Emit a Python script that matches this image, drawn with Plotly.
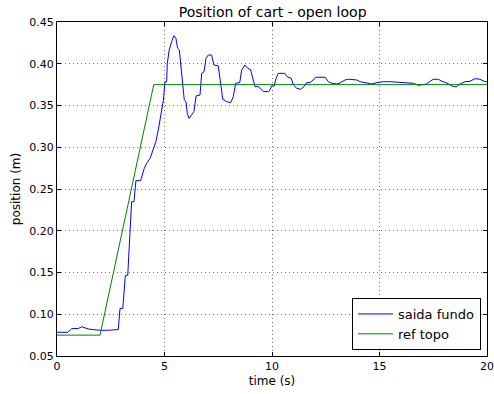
import plotly.graph_objects as go

# Blue: measured output ("saida fundo")
t_out = [0.0, 0.5, 0.68, 1.0, 1.15, 1.47, 1.7, 2.0, 2.39, 2.85, 2.93, 3.06, 3.18, 3.29,
         3.47, 3.58, 3.67, 3.89, 4.06, 4.17, 4.33, 4.48, 4.6, 4.71, 4.79, 4.87, 4.95,
         5.02, 5.1, 5.13, 5.22, 5.33, 5.44, 5.53, 5.61, 5.69, 5.77, 5.84, 5.92, 6.0,
         6.06, 6.14, 6.26, 6.37, 6.47, 6.65, 6.73, 6.84, 6.93, 7.04, 7.19, 7.3, 7.5,
         7.61, 7.71, 7.89, 8.08, 8.2, 8.31, 8.5, 8.59, 8.74, 8.87, 9.0, 9.1, 9.21, 9.37,
         9.47, 9.6, 9.83, 9.9, 9.98, 10.1, 10.19, 10.29, 10.6, 10.7, 10.9, 10.99, 11.15,
         11.33, 11.49, 11.61, 11.77, 11.92, 12.05, 12.47, 12.62, 12.78, 13.0, 13.16,
         13.4, 13.55, 13.94, 14.1, 14.4, 14.64, 14.87, 15.18, 15.49, 15.87, 16.26,
         16.57, 16.81, 16.97, 17.19, 17.35, 17.5, 17.74, 17.9, 18.09, 18.28, 18.43,
         18.59, 18.74, 18.98, 19.21, 19.44, 19.67, 19.91, 20.0]
y_out = [0.0784, 0.0784, 0.0827, 0.0830, 0.0850, 0.0823, 0.0816, 0.0808, 0.0808, 0.0816,
         0.1070, 0.1070, 0.1466, 0.1466, 0.2348, 0.2348, 0.2600, 0.2600, 0.2748, 0.2808,
         0.2868, 0.2990, 0.3066, 0.3207, 0.3326, 0.3426, 0.3566, 0.3785, 0.3785, 0.4005,
         0.4165, 0.4264, 0.4336, 0.4305, 0.4185, 0.4165, 0.3925, 0.3766, 0.3566, 0.3546,
         0.3406, 0.3346, 0.3386, 0.3426, 0.3614, 0.3625, 0.3885, 0.3905, 0.4065, 0.4105,
         0.4105, 0.3985, 0.3975, 0.3766, 0.3574, 0.3546, 0.3534, 0.3606, 0.3766, 0.3775,
         0.3925, 0.3985, 0.3945, 0.3930, 0.3825, 0.3726, 0.3726, 0.3698, 0.3666, 0.3666,
         0.3686, 0.3734, 0.3734, 0.3825, 0.3885, 0.3885, 0.3845, 0.3825, 0.3746, 0.3706,
         0.3694, 0.3726, 0.3774, 0.3774, 0.3814, 0.3838, 0.3838, 0.3785, 0.3766, 0.3758,
         0.3770, 0.3806, 0.3814, 0.3806, 0.3785, 0.3766, 0.3758, 0.3774, 0.3785, 0.3785,
         0.3778, 0.3774, 0.3766, 0.3742, 0.3746, 0.3758, 0.3790, 0.3814, 0.3814, 0.3790,
         0.3774, 0.3742, 0.3726, 0.3726, 0.3758, 0.3785, 0.3790, 0.3822, 0.3814, 0.3785,
         0.3785]

# Green: reference ("ref topo")
t_ref = [0.0, 2.0, 4.5, 20.0]
y_ref = [0.075, 0.075, 0.375, 0.375]

x_ticks = [0, 5, 10, 15, 20]
y_ticks = [0.05, 0.10, 0.15, 0.20, 0.25, 0.30, 0.35, 0.40, 0.45]

fig = go.Figure()
fig.add_trace(go.Scatter(x=t_out, y=y_out, mode="lines", name="saida fundo",
                         line=dict(color="#0000ff", width=1)))
fig.add_trace(go.Scatter(x=t_ref, y=y_ref, mode="lines", name="ref topo",
                         line=dict(color="#008000", width=1)))

font = "DejaVu Sans, sans-serif"
axis_common = dict(showline=True, linecolor="black", linewidth=1, mirror="ticks",
                   ticks="inside", ticklen=4, tickcolor="black", automargin=False,
                   showgrid=True, gridcolor="rgba(0,0,0,0.55)", griddash="1px,3px",
                   gridwidth=1, zeroline=False,
                   tickfont=dict(family=font, size=11, color="black"))

fig.update_layout(
    width=494, height=394,
    margin=dict(l=57, r=7, t=22, b=38),
    paper_bgcolor="white", plot_bgcolor="white",
    title=dict(text="Position of cart - open loop", x=0.552, xanchor="center",
               y=0.97, yanchor="middle",
               font=dict(family=font, size=14, color="black")),
    xaxis=dict(range=[0, 20], tickvals=x_ticks, ticktext=[str(v) for v in x_ticks],
               title=dict(text="time (s)", font=dict(family=font, size=12, color="black"),
                          standoff=4),
               **axis_common),
    yaxis=dict(range=[0.05, 0.45], tickvals=y_ticks,
               ticktext=["%.2f" % v for v in y_ticks],
               title=dict(text="position (m)", font=dict(family=font, size=12, color="black"),
                          standoff=6),
               **axis_common),
    legend=dict(x=0.986, y=0.018, xanchor="right", yanchor="bottom",
                bordercolor="black", borderwidth=1, bgcolor="white",
                font=dict(family=font, size=13, color="black"),
                itemwidth=35, tracegroupgap=0),
    showlegend=True,
)

fig.write_html("out.html")
